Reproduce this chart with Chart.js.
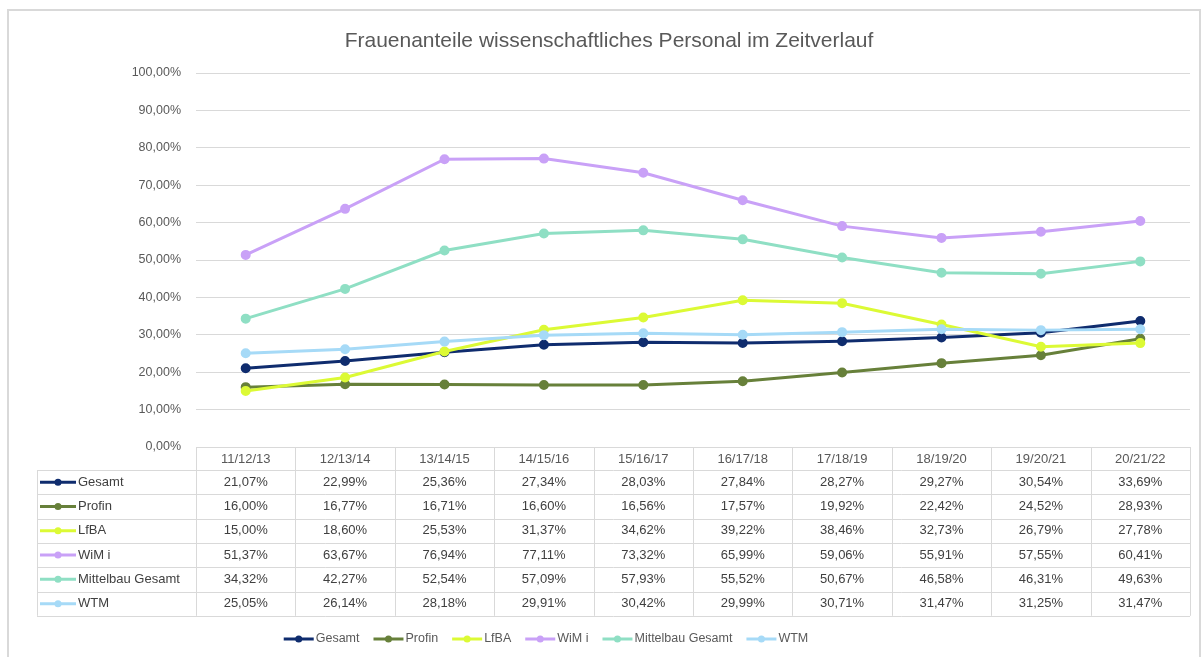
<!DOCTYPE html>
<html>
<head>
<meta charset="utf-8">
<script src="https://cdn.jsdelivr.net/npm/chart.js@4"></script>
<style>
  body { margin: 0; background: #fff; }
  #wrap { position: relative; width: 1203px; height: 657px; }
</style>
</head>
<body>
<div id="wrap"><canvas id="chart"></canvas></div>
<script>
/******************** DATA ******************/
const title = 'Frauenanteile wissenschaftliches Personal im Zeitverlauf';
const categories = ['11/12/13', '12/13/14', '13/14/15', '14/15/16', '15/16/17', '16/17/18', '17/18/19', '18/19/20', '19/20/21', '20/21/22'];
const seriesNames = ['Gesamt', 'Profin', 'LfBA', 'WiM i', 'Mittelbau Gesamt', 'WTM'];
const gesamt    = [21.07, 22.99, 25.36, 27.34, 28.03, 27.84, 28.27, 29.27, 30.54, 33.69];
const profin    = [16.00, 16.77, 16.71, 16.60, 16.56, 17.57, 19.92, 22.42, 24.52, 28.93];
const lfba      = [15.00, 18.60, 25.53, 31.37, 34.62, 39.22, 38.46, 32.73, 26.79, 27.78];
const wimi      = [51.37, 63.67, 76.94, 77.11, 73.32, 65.99, 59.06, 55.91, 57.55, 60.41];
const mittelbau = [34.32, 42.27, 52.54, 57.09, 57.93, 55.52, 50.67, 46.58, 46.31, 49.63];
const wtm       = [25.05, 26.14, 28.18, 29.91, 30.42, 29.99, 30.71, 31.47, 31.25, 31.47];
const yTicks = { min: 0, max: 100, step: 10 };

/******************** STYLE ******************/
const seriesValues = [gesamt, profin, lfba, wimi, mittelbau, wtm];
const colors = ['#0f2c6e', '#67803a', '#dcfa35', '#c9a1f7', '#8fdfc4', '#a6daf7'];
const FONT = "'Liberation Sans', Arial, sans-serif";
const TEXT = '#595959';
const GRID = '#d9d9d9';

function fmt(v) {
  return v.toFixed(2).replace('.', ',') + '%';
}

/************** TITLE, TABLE, LEGEND **************/
const excelPlugin = {
  id: 'excelPlugin',
  beforeDraw(chart) {
    const ctx = chart.ctx;
    ctx.save();
    ctx.fillStyle = '#fff';
    ctx.fillRect(0, 0, chart.width, chart.height);
    ctx.strokeStyle = GRID;
    ctx.lineWidth = 2;
    ctx.strokeRect(8, 10, 1192, 660);
    ctx.fillStyle = TEXT;
    ctx.font = '21px ' + FONT;
    ctx.textAlign = 'center';
    ctx.textBaseline = 'middle';
    ctx.fillText(title, 609, 41);
    ctx.restore();
  },
  afterDraw(chart) {
    const ctx = chart.ctx;
    const x = chart.scales.x;
    const area = chart.chartArea;
    const half = (x.getPixelForValue(1) - x.getPixelForValue(0)) / 2;
    const top = area.bottom;
    const headH = 23;
    const rowH = 24.3;
    const labelLeft = 37;
    const bottom = top + headH + rowH * seriesNames.length;

    ctx.save();
    ctx.strokeStyle = GRID;
    ctx.lineWidth = 1;
    ctx.beginPath();
    // vertical lines of category columns
    for (let i = 0; i <= categories.length; i++) {
      const px = Math.round(x.getPixelForValue(i) - half) + 0.5;
      ctx.moveTo(px, top);
      ctx.lineTo(px, bottom);
    }
    ctx.moveTo(labelLeft + 0.5, top + headH);
    ctx.lineTo(labelLeft + 0.5, bottom);
    // horizontal lines
    for (let r = 0; r <= seriesNames.length; r++) {
      const py = Math.round(top + headH + r * rowH) + 0.5;
      ctx.moveTo(labelLeft, py);
      ctx.lineTo(area.right, py);
    }
    ctx.stroke();

    ctx.font = '13px ' + FONT;
    ctx.textBaseline = 'middle';
    ctx.textAlign = 'center';
    ctx.fillStyle = TEXT;
    categories.forEach((c, i) => {
      ctx.fillText(c, x.getPixelForValue(i), top + headH / 2 + 1);
    });

    seriesNames.forEach((name, r) => {
      const cy = top + headH + r * rowH + rowH / 2;
      drawKey(ctx, labelLeft + 3, cy, colors[r]);
      ctx.textAlign = 'left';
      ctx.fillStyle = '#404040';
      ctx.fillText(name, labelLeft + 41, cy);
      ctx.textAlign = 'center';
      seriesValues[r].forEach((v, i) => {
        ctx.fillText(fmt(v), x.getPixelForValue(i), cy);
      });
    });

    // legend at bottom
    ctx.font = '12.5px ' + FONT;
    const keyW = 30, gapTxt = 2, gapItem = 14;
    const widths = seriesNames.map(n => keyW + gapTxt + ctx.measureText(n).width);
    const total = widths.reduce((a, b) => a + b, 0) + gapItem * (widths.length - 1);
    let lx = 546 - total / 2;
    const ly = 639;
    seriesNames.forEach((name, i) => {
      drawKey(ctx, lx, ly, colors[i], keyW);
      ctx.textAlign = 'left';
      ctx.fillStyle = TEXT;
      ctx.fillText(name, lx + keyW + gapTxt, ly);
      lx += widths[i] + gapItem;
    });
    ctx.restore();
  }
};

function drawKey(ctx, x0, cy, color, w = 36) {
  ctx.save();
  ctx.strokeStyle = color;
  ctx.fillStyle = color;
  ctx.lineWidth = 3;
  ctx.beginPath();
  ctx.moveTo(x0, cy);
  ctx.lineTo(x0 + w, cy);
  ctx.stroke();
  ctx.beginPath();
  ctx.arc(x0 + w / 2, cy, 3.5, 0, Math.PI * 2);
  ctx.fill();
  ctx.restore();
}

/******************** CHART ******************/
new Chart(document.getElementById('chart'), {
  type: 'line',
  data: {
    labels: categories,
    datasets: seriesNames.map((name, i) => ({
      label: name,
      data: seriesValues[i],
      borderColor: colors[i],
      backgroundColor: colors[i],
      borderWidth: 3,
      pointRadius: 3.5,
      pointHoverRadius: 3.5,
      tension: 0,
      order: seriesNames.length - i
    }))
  },
  options: {
    responsive: true,
    maintainAspectRatio: false,
    animation: false,
    layout: { padding: { left: 0, top: 73, right: 13, bottom: 210 } },
    plugins: {
      legend: { display: false },
      title: { display: false },
      tooltip: { enabled: false }
    },
    scales: {
      x: {
        display: false,
        offset: true
      },
      y: {
        min: yTicks.min,
        max: yTicks.max,
        border: { display: false },
        grid: { color: GRID, drawTicks: false },
        ticks: {
          stepSize: yTicks.step,
          padding: 15,
          color: TEXT,
          font: { family: FONT, size: 12.5 },
          callback: v => fmt(v)
        },
        afterFit(scale) { scale.width = 196; }
      }
    }
  },
  plugins: [excelPlugin]
});
</script>
</body>
</html>
